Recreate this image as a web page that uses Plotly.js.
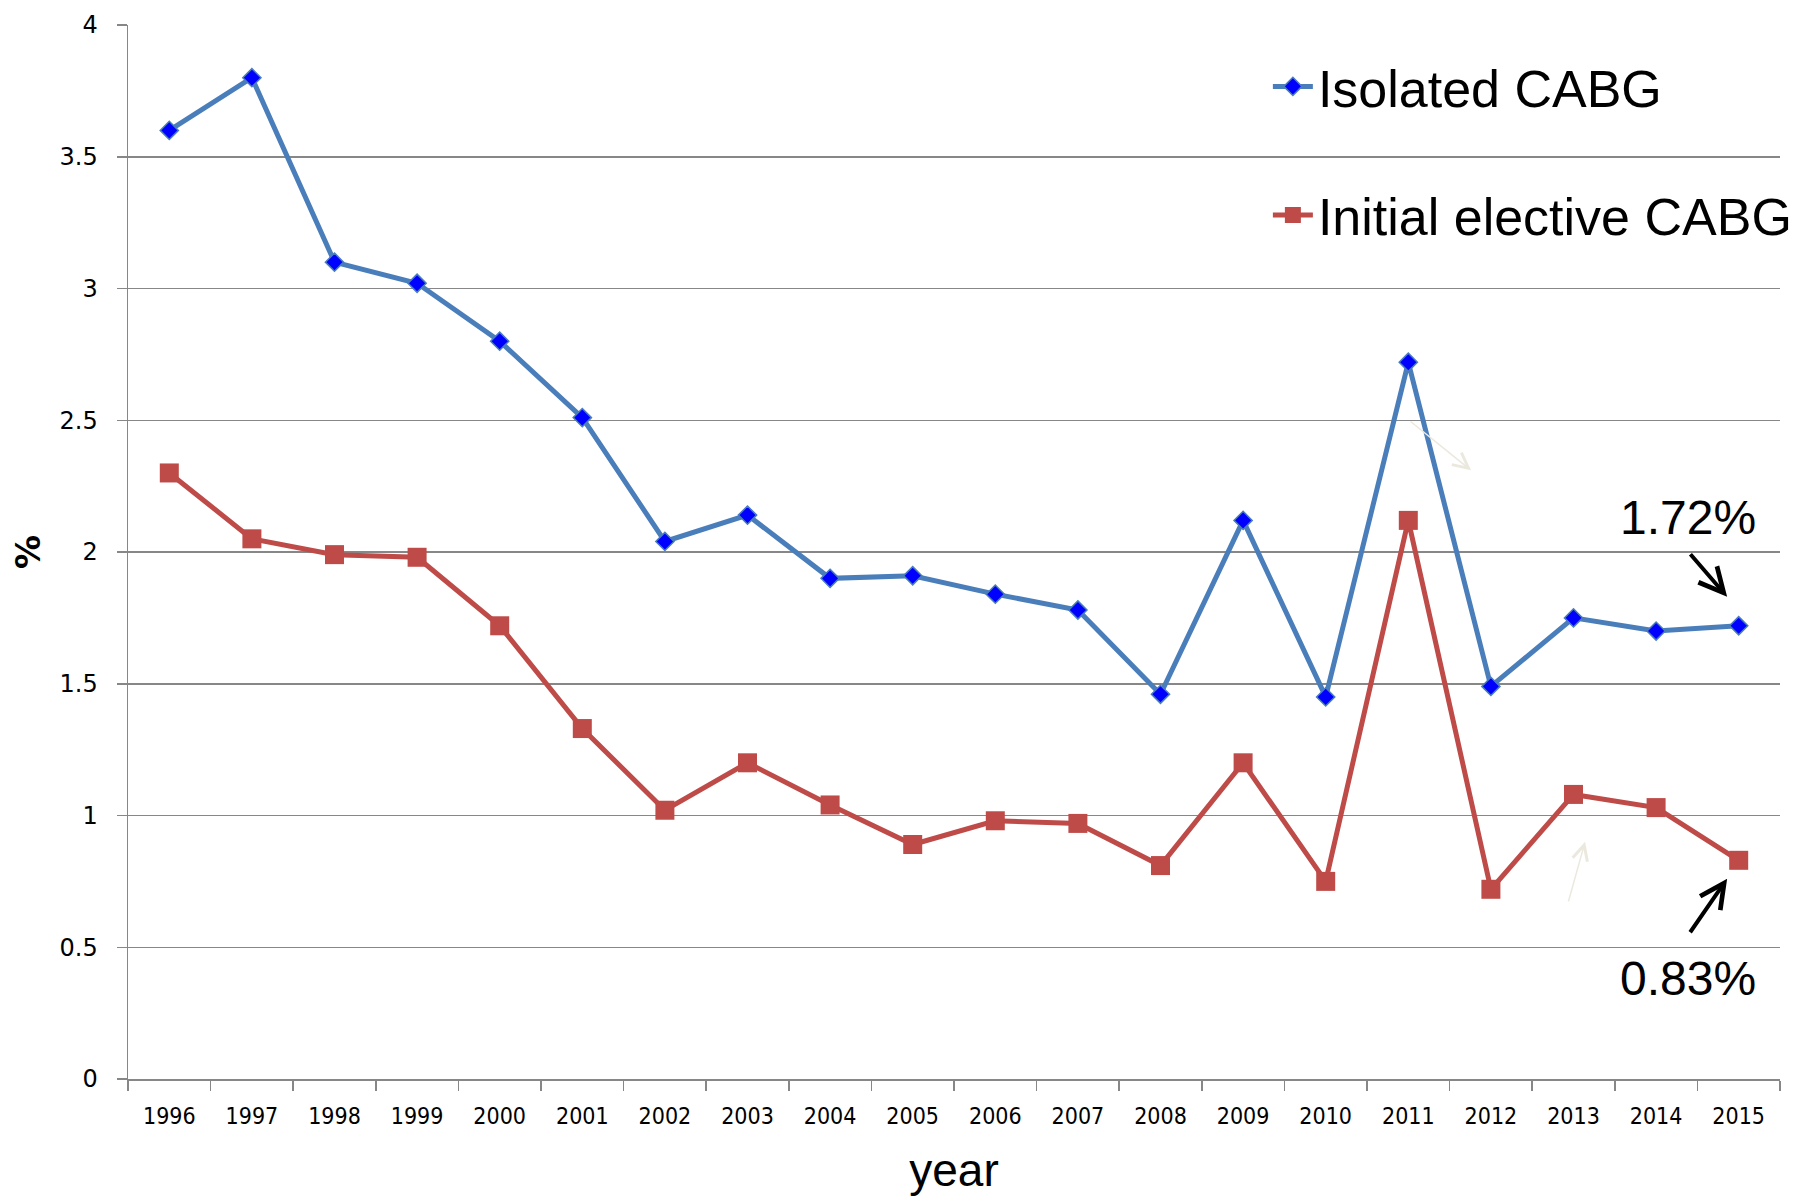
<!DOCTYPE html>
<html>
<head>
<meta charset="utf-8">
<script src="https://cdn.plot.ly/plotly-3.0.1.min.js"></script>
<style>
  html, body { margin: 0; padding: 0; background: #ffffff; }
  #chart { width: 1808px; height: 1196px; }
</style>
</head>
<body>
<div id="chart"></div>
<script>
const years = ["1996","1997","1998","1999","2000","2001","2002","2003","2004","2005",
               "2006","2007","2008","2009","2010","2011","2012","2013","2014","2015"];
const isolatedCABG = [3.60, 3.80, 3.10, 3.02, 2.80, 2.51, 2.04, 2.14, 1.90, 1.91,
                      1.84, 1.78, 1.46, 2.12, 1.45, 2.72, 1.49, 1.75, 1.70, 1.72];
const initialElectiveCABG = [2.30, 2.05, 1.99, 1.98, 1.72, 1.33, 1.02, 1.20, 1.04, 0.89,
                             0.98, 0.97, 0.81, 1.20, 0.75, 2.12, 0.72, 1.08, 1.03, 0.83];
const seriesNames = ["Isolated CABG", "Initial elective CABG"];
const calloutTexts = ["1.72%", "0.83%"];
const xTitle = "year";
const yTitle = "%";

const gridGray = "#878787";

const traces = [
  {
    x: years, y: isolatedCABG, name: seriesNames[0], type: "scatter", mode: "lines+markers",
    legendgroup: "a",
    line: { color: "#4a7ebb", width: 5 },
    marker: { symbol: "diamond", size: 14, color: "#0000ff", line: { color: "#4a7ebb", width: 1.5 } }
  },
  {
    x: years, y: initialElectiveCABG, name: seriesNames[1], type: "scatter", mode: "lines+markers",
    legendgroup: "b",
    line: { color: "#be4b48", width: 5 },
    marker: { symbol: "square", size: 19, color: "#be4b48" }
  }
];

const layout = {
  width: 1808, height: 1196,
  paper_bgcolor: "#ffffff", plot_bgcolor: "#ffffff",
  margin: { l: 128, r: 28, t: 25, b: 117, autoexpand: false },
  showlegend: true,
  legend: {
    x: 0.69, xanchor: "left", y: 0.98, yanchor: "top",
    font: { family: "Liberation Sans, Arial, sans-serif", size: 52, color: "#000000" },
    tracegroupgap: 58, itemwidth: 40,
    bgcolor: "rgba(0,0,0,0)"
  },
  xaxis: {
    type: "category",
    range: [-0.5, 19.5], autorange: false,
    tickson: "boundaries",
    ticks: "outside", ticklen: 10, tickcolor: gridGray, tickwidth: 1.5,
    showline: true, linecolor: gridGray, linewidth: 1.5,
    showgrid: false, zeroline: false,
    ticklabelstandoff: 16,
    tickfont: { family: "DejaVu Sans Condensed, Liberation Sans Narrow, sans-serif", size: 23, color: "#000000" },
    title: { text: xTitle, font: { family: "Liberation Sans, Arial, sans-serif", size: 46, color: "#000000" }, standoff: 32 }
  },
  yaxis: {
    range: [0, 4], autorange: false, dtick: 0.5, tick0: 0,
    ticks: "outside", ticklen: 10, tickcolor: gridGray, tickwidth: 1.5,
    showline: true, linecolor: gridGray, linewidth: 1.5,
    showgrid: true, gridcolor: gridGray, gridwidth: 1.5,
    zeroline: false,
    ticklabelstandoff: 14,
    tickfont: { family: "DejaVu Sans, Verdana, sans-serif", size: 24, color: "#000000" },
    title: { text: yTitle, font: { family: "DejaVu Sans, Verdana, sans-serif", size: 34, color: "#000000", weight: "bold" }, standoff: 8 }
  },
  annotations: [
    { xref: "x", yref: "y", x: 18.39, y: 2.13, text: calloutTexts[0], showarrow: false,
      font: { family: "Liberation Sans, Arial, sans-serif", size: 48, color: "#000000" }, xanchor: "center", yanchor: "middle" },
    { xref: "x", yref: "y", x: 18.39, y: 0.38, text: calloutTexts[1], showarrow: false,
      font: { family: "Liberation Sans, Arial, sans-serif", size: 48, color: "#000000" }, xanchor: "center", yanchor: "middle" },
    { xref: "x", yref: "y", x: 18.86, y: 1.83, text: "", showarrow: true, ax: -38, ay: -44,
      arrowcolor: "#000000", arrowwidth: 4, arrowhead: 5, arrowsize: 1.2 },
    { xref: "x", yref: "y", x: 18.86, y: 0.76, text: "", showarrow: true, ax: -38, ay: 55,
      arrowcolor: "#000000", arrowwidth: 4, arrowhead: 5, arrowsize: 1.2 },
    { xref: "x", yref: "y", x: 15.76, y: 2.31, text: "", showarrow: true, ax: -62, ay: -50,
      arrowcolor: "#ebe8de", arrowwidth: 1.5, arrowhead: 5, arrowsize: 2 },
    { xref: "x", yref: "y", x: 17.14, y: 0.90, text: "", showarrow: true, ax: -17, ay: 61,
      arrowcolor: "#ebe8de", arrowwidth: 1.5, arrowhead: 5, arrowsize: 2 }
  ]
};

Plotly.newPlot("chart", traces, layout, { displayModeBar: false, staticPlot: true });
</script>
</body>
</html>
